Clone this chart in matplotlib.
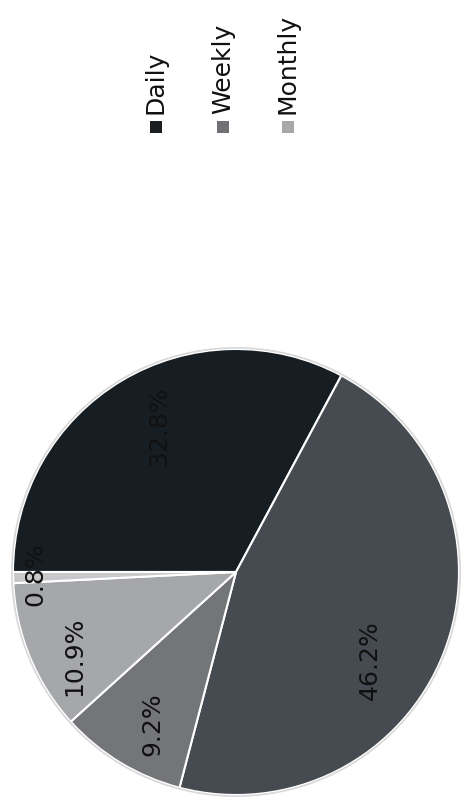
import numpy as np
import matplotlib
matplotlib.use("Agg")
import matplotlib.pyplot as plt
from matplotlib.patches import Rectangle, Circle

# slice values (clockwise from the left edge), shares in percent
values = [32.8, 46.2, 9.2, 10.9, 0.8]
colors = ["#161e24", "#464b51", "#737578", "#a5a7aa", "#c6c8ca"]
label_dist = [0.74, 0.72, 0.78, 0.82, 0.90]
label_turn = [-3, -12, 2.5, 5, -0.8]   # small angular nudges of the % labels

legend_names = ["Daily", "Weekly", "Monthly"]
legend_colors = ["#1b1f22", "#6f7174", "#a7a8aa"]

fig = plt.figure(figsize=(4.62, 8.09), dpi=100)
fig.patch.set_facecolor("white")

ax = fig.add_axes([13 / 462, 14 / 809, 446 / 462, 446 / 809])
wedges, _ = ax.pie(values, colors=colors, startangle=180, counterclock=False,
                   wedgeprops=dict(edgecolor="white", linewidth=1.5, clip_on=False))
ax.add_patch(Circle((0, 0), 1.005, fill=False, edgecolor="#d8d8d8", linewidth=1.2, clip_on=False))
ax.set_xlim(-1, 1)
ax.set_ylim(-1, 1)
ax.set_aspect("equal")
ax.axis("off")

for w, v, d, t in zip(wedges, values, label_dist, label_turn):
    mid = np.deg2rad((w.theta1 + w.theta2) / 2 + t)
    ax.text(d * np.cos(mid), d * np.sin(mid), f"{v:.1f}%", rotation=90,
            ha="center", va="center", fontsize=18, color="#111111")

# rotated legend along the top
xs = [156, 223, 288]
for x, name, c in zip(xs, legend_names, legend_colors):
    fig.patches.append(Rectangle(((x - 6) / 462, 1 - 133 / 809), 12 / 462, 12 / 809,
                                 transform=fig.transFigure, facecolor=c, edgecolor="none"))
    fig.text(x / 462, 1 - 114 / 809, name, rotation=90, ha="center", va="bottom",
             fontsize=18, color="#111111")

fig.savefig("out.png", dpi=100)
